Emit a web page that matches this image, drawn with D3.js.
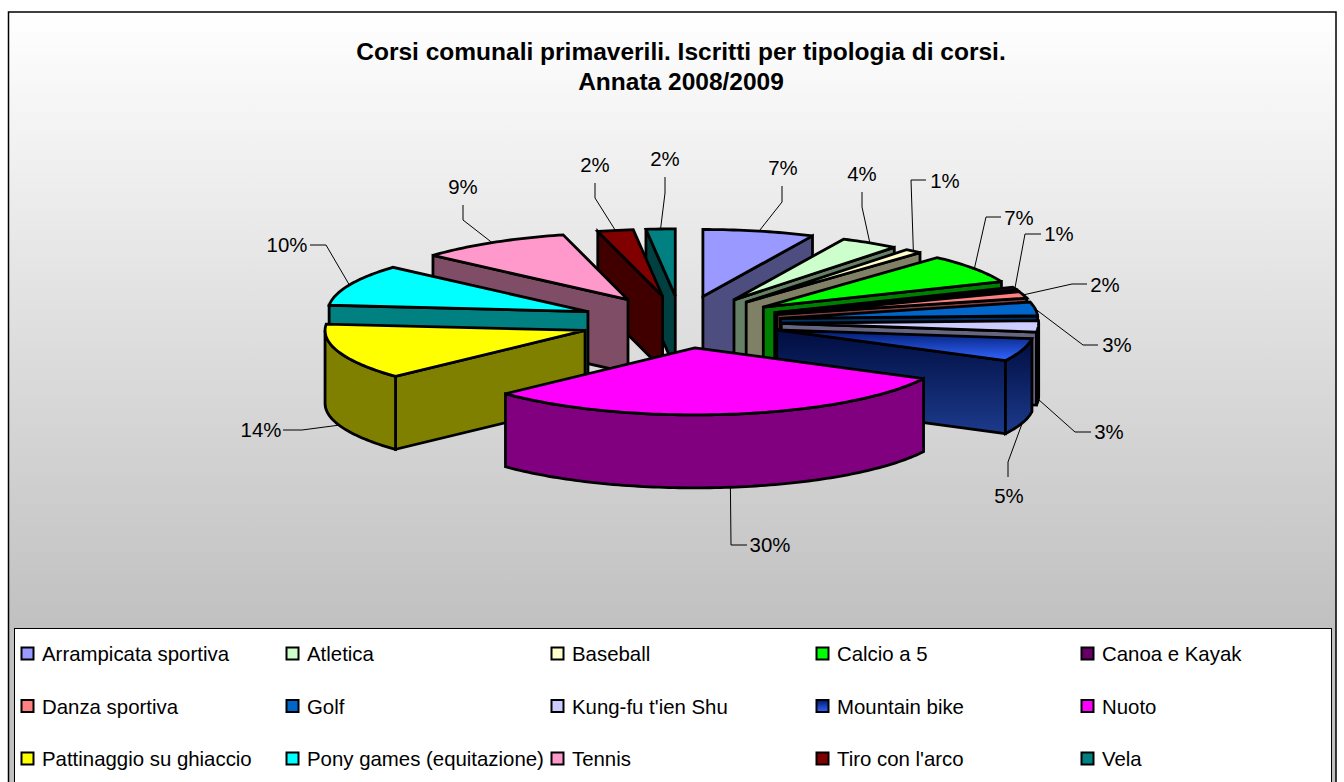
<!DOCTYPE html>
<html>
<head>
<meta charset="utf-8">
<script src="https://cdn.jsdelivr.net/npm/d3@7"></script>
<style>
  html, body { margin: 0; padding: 0; background: #fff; overflow: hidden; }
  svg { display: block; font-family: "Liberation Sans", Arial, sans-serif; }
</style>
</head>
<body>
<svg id="chart" width="1344" height="782"></svg>
<script>
const categories = ["Arrampicata sportiva", "Atletica", "Baseball", "Calcio a 5", "Canoa e Kayak",
  "Danza sportiva", "Golf", "Kung-fu t'ien Shu", "Mountain bike", "Nuoto",
  "Pattinaggio su ghiaccio", "Pony games (equitazione)", "Tennis", "Tiro con l'arco", "Vela"];
// estimated from the slice edges, the printed labels are these rounded
const values = [7, 3.7, 1.1, 7, 0.7, 1.6, 3.3, 2.7, 5.49, 30.41, 13.51, 9.99, 9.49, 2.21, 1.8];
const titleLines = ["Corsi comunali primaverili. Iscritti per tipologia di corsi.", "Annata 2008/2009"];

const colors = ["#9999FF", "#CCFFCC", "#FFFFCC", "#00FF00", "#660066", "#FF8080", "#0066CC", "#CCCCFF",
  "url(#bikeTop)", "#FF00FF", "#FFFF00", "#00FFFF", "#FF99CC", "#800000", "#008080"];
const wallColors = colors.map(function(c) {
  if (c.indexOf("url") === 0) return "url(#bikeWall)";
  const k = d3.rgb(c);
  return d3.rgb(k.r / 2, k.g / 2, k.b / 2).formatHex();
});

// leader elbows and label centres, one row per slice: [elbowX, elbowY, endX, endY, textX, textY]
const labelLayout = [
  [782, 202, 782, 186, 783, 168],
  [862, 207, 862, 192, 862, 174],
  [911, 180, 926, 180, 945, 181],
  [986, 217, 1001, 217, 1019, 218],
  [1025, 234, 1041, 234, 1059, 234],
  [1072, 284, 1087, 284, 1105, 285],
  [1083, 345, 1098, 345, 1117, 345],
  [1075, 432, 1091, 432, 1109, 432],
  [1008, 462, 1008, 477, 1009, 496],
  [731, 545, 747, 545, 770, 545],
  [302, 430, 283, 430, 261, 430],
  [326, 245, 310, 245, 287, 245],
  [463, 220, 463, 205, 463, 187],
  [595, 198, 595, 183, 595, 165],
  [665, 193, 665, 177, 665, 159]
];

const svg = d3.select("#chart");
const cx = 681, cy = 322, rx = 260, ry = 67, depth = 73, explode = 0.39;

const defs = svg.append("defs");
function vGrad(id, from, to) {
  const g = defs.append("linearGradient").attr("id", id).attr("x1", 0).attr("y1", 0).attr("x2", 0).attr("y2", 1);
  g.append("stop").attr("offset", "0%").attr("stop-color", from);
  g.append("stop").attr("offset", "100%").attr("stop-color", to);
}
vGrad("bg", "#ffffff", "#c0c0c0");
vGrad("bikeTop", "#001a70", "#3366FF");
vGrad("bikeWall", "#000d40", "#1c3a8c");

// frame
svg.append("rect").attr("x", 8.5).attr("y", 12).attr("width", 1327.5).attr("height", 618)
  .attr("fill", "url(#bg)");
svg.append("rect").attr("x", 8.5).attr("y", 630).attr("width", 1327.5).attr("height", 160)
  .attr("fill", "#c0c0c0");
svg.append("rect").attr("x", 8.5).attr("y", 12).attr("width", 1327.5).attr("height", 790)
  .attr("fill", "none").attr("stroke", "#000").attr("stroke-width", 1.5);

svg.selectAll("text.title").data(titleLines).enter().append("text")
  .attr("class", "title")
  .attr("x", 681)
  .attr("y", function(d, i) { return 60 + i * 30; })
  .attr("text-anchor", "middle")
  .attr("font-size", 24.5)
  .attr("font-weight", "bold")
  .attr("fill", "#000")
  .text(function(d) { return d; });

// ellipse in unit coordinates -> pixels, the right half is a little narrower in the picture
const xScale = d3.scaleLinear().domain([-1, 0, 1]).range([cx - rx, cx, cx + rx * 0.99]);
const yScale = d3.scaleLinear().domain([-1, 1]).range([cy - ry, cy + ry]);

const pie = d3.pie().sort(null).startAngle(0).endAngle(2 * Math.PI);
const arcs = pie(values).map(function(d, i) {
  d.index = i;
  d.mid = (d.startAngle + d.endAngle) / 2;
  return d;
});

function pt(d, r, a, drop) {
  const ux = explode * Math.sin(d.mid) + r * Math.sin(a);
  const uy = -explode * Math.cos(d.mid) - r * Math.cos(a);
  return [xScale(ux), yScale(uy) + (drop || 0)];
}
function arcPoints(d, a0, a1, drop) {
  const n = Math.max(2, Math.ceil((a1 - a0) / 0.02));
  return d3.range(n + 1).map(function(k) { return pt(d, 1, a0 + (a1 - a0) * k / n, drop); });
}
const line = d3.line();
function closed(points) { return line(points) + "Z"; }

function drawSlice(g, d) {
  const wall = wallColors[d.index];
  const face = function(points, fill) {
    g.append("path").attr("d", closed(points)).attr("fill", fill);
  };
  // radial walls, only the side turned to the viewer
  if (Math.sin(d.startAngle) < -1e-6) {
    face([pt(d, 0, 0), pt(d, 1, d.startAngle), pt(d, 1, d.startAngle, depth), pt(d, 0, 0, depth)], wall);
  }
  if (Math.sin(d.endAngle) > 1e-6) {
    face([pt(d, 0, 0), pt(d, 1, d.endAngle), pt(d, 1, d.endAngle, depth), pt(d, 0, 0, depth)], wall);
  }
  // outer wall between 90 and 270 degrees
  const a0 = Math.max(d.startAngle, Math.PI / 2);
  const a1 = Math.min(d.endAngle, 3 * Math.PI / 2);
  if (a1 > a0) {
    face(arcPoints(d, a0, a1).concat(arcPoints(d, a0, a1, depth).reverse()), wall);
  }
  face([pt(d, 0, 0)].concat(arcPoints(d, d.startAngle, d.endAngle)), colors[d.index]);
}

const sliceGroup = svg.append("g")
  .attr("stroke", "#000").attr("stroke-width", 2.8)
  .attr("stroke-linejoin", "miter").attr("stroke-miterlimit", 3);
// back to front
arcs.slice().sort(function(a, b) { return -Math.cos(a.mid) - -Math.cos(b.mid); })
  .forEach(function(d) { drawSlice(sliceGroup.append("g"), d); });

// leaders and percentages
const labels = svg.append("g");
arcs.forEach(function(d, i) {
  const l = labelLayout[i];
  const front = d.mid > Math.PI / 2 && d.mid < 3 * Math.PI / 2;
  const a = pt(d, 1, d.mid, front ? depth : 0);
  labels.append("path")
    .attr("d", line([a, [l[0], l[1]], [l[2], l[3]]]))
    .attr("fill", "none").attr("stroke", "#000").attr("stroke-width", 1);
  labels.append("text")
    .attr("x", l[4]).attr("y", l[5])
    .attr("text-anchor", "middle").attr("dy", "0.36em")
    .attr("font-size", 20.4).attr("fill", "#000")
    .text(d3.format(".0f")(d.value) + "%");
});

// legend
svg.append("rect").attr("x", 14.5).attr("y", 628.5).attr("width", 1317).attr("height", 170)
  .attr("fill", "#fff").attr("stroke", "#000").attr("stroke-width", 1);
const colX = d3.scaleLinear().domain([0, 4]).range([21, 1081]);
const rowY = d3.scaleLinear().domain([0, 2]).range([654, 759]);
const legend = svg.selectAll("g.legend").data(categories).enter().append("g")
  .attr("class", "legend")
  .attr("transform", function(d, i) {
    return "translate(" + colX(i % 5) + "," + rowY(Math.floor(i / 5)) + ")";
  });
legend.append("rect")
  .attr("x", 0.5).attr("y", -6.5).attr("width", 12).attr("height", 12)
  .attr("fill", function(d, i) { return colors[i]; })
  .attr("stroke", "#000").attr("stroke-width", 2);
legend.append("text")
  .attr("x", 21).attr("dy", "0.36em")
  .attr("font-size", 20.4).attr("fill", "#000")
  .text(function(d) { return d; });
</script>
</body>
</html>
